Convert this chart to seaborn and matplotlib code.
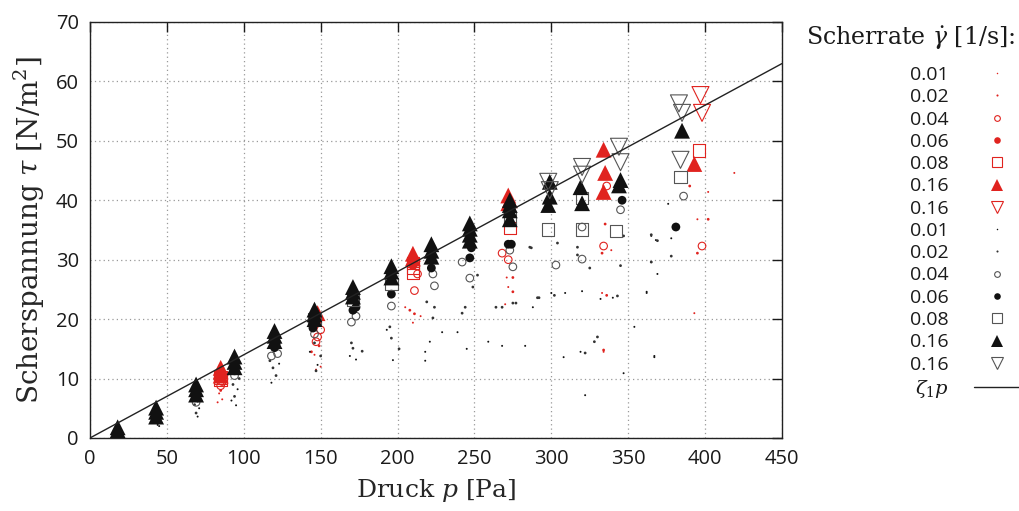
import matplotlib
matplotlib.use("Agg")
import matplotlib.pyplot as plt
from matplotlib.lines import Line2D
import seaborn as sns
import pandas as pd

# ---------------- data ----------------
# red series
r001_x = [84, 86, 83, 146, 150, 147, 205, 215, 210, 271, 272, 270, 333, 334, 339, 393, 402, 395, 419]
r001_y = [7.5, 6.5, 6.0, 14.0, 12.0, 11.5, 22.0, 20.5, 19.4, 27.0, 25.4, 22.5, 24.4, 14.5, 31.6, 21.0, 41.4, 36.8, 44.6]
r002_x = [85, 87, 149, 144, 211, 208, 275, 275, 333, 335, 336, 334, 390, 402, 395]
r002_y = [8.0, 9.5, 15.5, 14.5, 20.9, 21.5, 27.0, 24.6, 31.1, 36.0, 24.0, 14.8, 42.4, 36.8, 31.1]
r004_x = [85, 86, 148, 147, 150, 211, 213, 268, 272, 334, 336, 398]
r004_y = [8.8, 9.5, 17.0, 16.2, 18.2, 24.8, 27.6, 31.1, 30.0, 32.3, 42.4, 32.3]
r006_x = [85, 148, 210]
r006_y = [10.3, 19.8, 29.0]
r008_x = [85, 85, 210, 210, 210, 273, 396]
r008_y = [10.2, 9.8, 27.8, 28.6, 29.4, 35.3, 48.4]
r016_x = [85, 85, 85, 148, 210, 210, 272, 272, 273, 334, 335, 334, 393]
r016_y = [10.5, 11.2, 11.8, 21.0, 30.2, 31.0, 39.5, 40.8, 40.0, 48.5, 44.6, 41.4, 46.1]
r016b_x = [397, 398]
r016b_y = [57.7, 54.7]

# black series
k001_x = [17, 20, 44, 45, 70, 71, 95, 96, 92, 118, 123, 143, 148, 169, 173, 193, 197, 218, 221, 229,
          239, 245, 259, 268, 283, 288, 300, 309, 320, 332, 340, 322, 347, 354, 367, 365, 369, 362,
          376, 368, 378, 365, 362, 367, 218, 308, 319]
k001_y = [0.4, 0.5, 2.2, 2.0, 3.6, 5.0, 5.5, 8.2, 6.3, 9.3, 12.5, 14.5, 12.3, 13.8, 13.2, 18.2, 13.1, 13.0, 16.2, 17.8,
          17.8, 15.0, 16.2, 15.5, 15.5, 22.0, 24.4, 24.4, 24.7, 23.4, 23.6, 7.2, 10.9, 18.7, 13.6, 34.0, 27.6, 24.6,
          39.4, 33.3, 33.6, 29.6, 24.4, 13.8, 14.5, 13.6, 14.5]
k002_x = [18, 19, 43, 42, 69, 68, 70, 94, 93, 97, 121, 119, 117, 146, 147, 150, 170, 171, 177, 195, 196, 201,
          219, 224, 223, 244, 242, 249, 252, 264, 268, 275, 277, 292, 302, 325, 343, 345, 286, 304, 317, 317,
          330, 328, 287, 291, 347, 369, 365, 378, 365, 322]
k002_y = [0.7, 0.2, 2.8, 3.0, 4.2, 5.6, 6.2, 7.0, 9.0, 10.0, 10.5, 11.8, 13.0, 16.0, 11.3, 13.8, 16.0, 15.1, 14.6, 18.7, 16.8, 15.0,
          22.9, 22.0, 20.2, 22.0, 21.0, 25.4, 27.4, 22.0, 22.0, 22.7, 22.7, 23.6, 24.0, 28.6, 23.9, 29.0, 32.1, 32.8, 32.1, 30.8,
          17.0, 16.2, 32.0, 23.6, 34.0, 33.2, 34.2, 30.6, 29.6, 14.3]
k004_x = [69, 94, 118, 122, 146, 170, 173, 196, 224, 223, 242, 247, 273, 275, 303, 320, 320, 345, 386]
k004_y = [6.0, 10.5, 13.8, 14.2, 17.5, 19.5, 20.5, 22.2, 25.6, 27.6, 29.6, 26.9, 31.6, 28.8, 29.1, 30.1, 35.5, 38.4, 40.7]
k006_x = [18, 43, 69, 94, 120, 121, 146, 145, 171, 173, 196, 222, 247, 248, 272, 274, 346, 381]
k006_y = [0.6, 3.3, 6.8, 11.3, 15.2, 15.8, 19.2, 18.5, 21.5, 22.0, 24.2, 28.6, 30.3, 32.0, 32.6, 32.6, 40.0, 35.5]
k008_x = [146, 171, 196, 273, 298, 320, 320, 342, 384]
k008_y = [20.0, 23.2, 25.9, 36.9, 35.1, 35.1, 40.4, 34.8, 43.9]
k016_x = [18, 18, 18, 43, 43, 43, 69, 69, 69, 94, 94, 94, 120, 120, 120, 146, 146, 146, 171, 171, 171,
          196, 196, 196, 222, 222, 222, 247, 247, 247, 247, 273, 273, 273, 273, 298, 299, 299,
          320, 319, 344, 345, 385]
k016_y = [0.8, 1.3, 1.8, 3.6, 4.4, 5.1, 7.3, 8.2, 9.0, 11.9, 12.8, 13.7, 16.3, 17.2, 18.0, 20.0, 20.8, 21.6, 23.8, 24.6, 25.4,
          27.0, 28.0, 28.9, 30.5, 31.5, 32.6, 33.2, 34.2, 35.2, 36.1, 36.8, 38.3, 39.2, 40.0, 39.2, 40.6, 43.1,
          39.5, 42.2, 42.5, 43.4, 51.7]
k016b_x = [298, 299, 320, 320, 344, 345, 383, 385, 384]
k016b_y = [43.1, 41.7, 45.6, 44.3, 49.0, 46.4, 56.3, 54.7, 46.8]

legend_labels = ["0.01", "0.02", "0.04", "0.06", "0.08", "0.16", "0.16",
                 "0.01", "0.02", "0.04", "0.06", "0.08", "0.16", "0.16"]
zeta1 = 0.14
line_p = [0, 450]

RED = "#e0231f"
BLACK = "#111111"
GRAY = "#555555"

sns.set_theme(style="white")
plt.rcParams["font.family"] = ["Open Sans", "DejaVu Sans"]
plt.rcParams["mathtext.fontset"] = "dejavuserif"

fig = plt.figure(figsize=(10.19, 5.11), dpi=100)
ax = fig.add_axes([0.0883, 0.1429, 0.6791, 0.8141])

series = [
    (r001_x, r001_y, dict(marker="o", s=2, color=RED, edgecolor="none")),
    (r002_x, r002_y, dict(marker="o", s=4, color=RED, edgecolor="none")),
    (r004_x, r004_y, dict(marker="o", s=30, facecolor="none", edgecolor=RED, linewidth=0.8)),
    (r006_x, r006_y, dict(marker="o", s=40, color=RED, edgecolor="none")),
    (r008_x, r008_y, dict(marker="s", s=80, facecolor="none", edgecolor=RED, linewidth=0.8)),
    (r016_x, r016_y, dict(marker="^", s=130, color=RED, edgecolor="none")),
    (r016b_x, r016b_y, dict(marker="v", s=150, facecolor="none", edgecolor=RED, linewidth=0.8)),
    (k001_x, k001_y, dict(marker="o", s=2, color=BLACK, edgecolor="none")),
    (k002_x, k002_y, dict(marker="o", s=4, color="#333333", edgecolor="none")),
    (k004_x, k004_y, dict(marker="o", s=30, facecolor="none", edgecolor=GRAY, linewidth=0.8)),
    (k006_x, k006_y, dict(marker="o", s=40, color=BLACK, edgecolor="none")),
    (k008_x, k008_y, dict(marker="s", s=80, facecolor="none", edgecolor=GRAY, linewidth=0.8)),
    (k016_x, k016_y, dict(marker="^", s=130, color=BLACK, edgecolor="none")),
    (k016b_x, k016b_y, dict(marker="v", s=150, facecolor="none", edgecolor=GRAY, linewidth=0.8)),
]

handles = []
for (xs, ys, kw), lab in zip(series, legend_labels):
    df = pd.DataFrame({"p": xs, "tau": ys})
    sns.scatterplot(data=df, x="p", y="tau", ax=ax, legend=False, zorder=3, **kw)
    fc = kw.get("color", kw.get("facecolor"))
    ec = kw.get("edgecolor") if kw.get("edgecolor") != "none" else fc
    ms = (kw["s"]) ** 0.5 * 0.75
    handles.append(Line2D([], [], linestyle="none", marker=kw["marker"], markersize=ms,
                          markerfacecolor=fc if fc != "none" else "none",
                          markeredgecolor=ec if fc == "none" else "none",
                          markeredgewidth=kw.get("linewidth", 0)))

line_df = pd.DataFrame({"p": line_p, "tau": [zeta1 * v for v in line_p]})
sns.lineplot(data=line_df, x="p", y="tau", ax=ax, color="#222222", linewidth=1.0, zorder=4)
handles.append(Line2D([], [], color="#222222", linewidth=1.0))
labels_all = legend_labels + [r"$\zeta_1 p$"]

ax.set_xlim(0, 450)
ax.set_ylim(0, 70)
ax.set_xticks(range(0, 451, 50))
ax.set_yticks(range(0, 71, 10))
ax.grid(True, linestyle=(0, (1, 2.5)), color="#999999", linewidth=0.9)
ax.tick_params(axis="both", which="major", direction="in", length=7, width=1.0,
               top=True, right=True, labelsize=14.5, pad=8, colors="#1a1a1a")
for sp in ax.spines.values():
    sp.set_color("#222222")
    sp.set_linewidth(1.0)

ax.set_xlabel(r"Druck $p$ [Pa]", family="DejaVu Serif", fontsize=18, labelpad=6)
ax.set_ylabel(r"Scherspannung $\tau$ [N/m$^2$]", family="DejaVu Serif", fontsize=20, labelpad=6)

fig.text(1015 / 1019, 1 - 38 / 511, r"Scherrate $\dot{\gamma}$ [1/s]:", family="DejaVu Serif",
         fontsize=17, ha="right", va="center", color="#1a1a1a")

leg = fig.legend(handles, labels_all, loc="upper right", bbox_to_anchor=(1.0, 1 - 66 / 511),
                 frameon=False, markerfirst=False, fontsize=14, labelspacing=0.22,
                 handlelength=2.3, handletextpad=1.3, borderaxespad=0.0, borderpad=0.0)
for t in leg.get_texts():
    t.set_color("#1a1a1a")

fig.savefig("out.png", dpi=100)
